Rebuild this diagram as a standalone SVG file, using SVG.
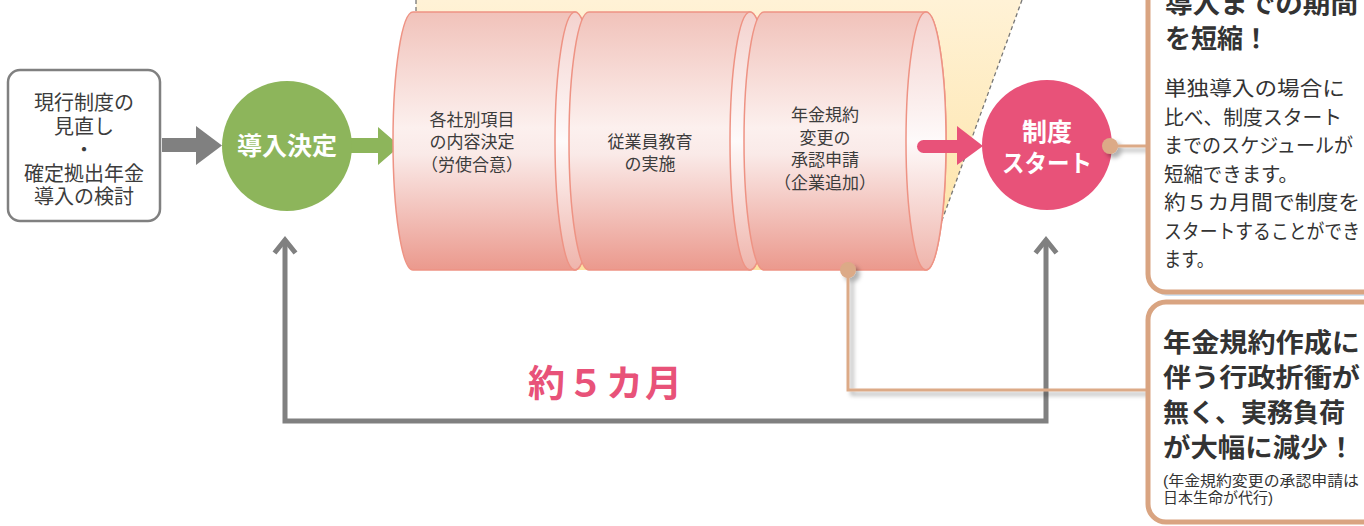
<svg xmlns="http://www.w3.org/2000/svg" width="1364" height="526" viewBox="0 0 1364 526">
<defs>
<linearGradient id="trap" x1="0" y1="0" x2="0" y2="1">
<stop offset="0" stop-color="#fff2d6"/><stop offset="1" stop-color="#fde2a2"/>
</linearGradient>
<linearGradient id="cylBody" x1="0" y1="0" x2="0" y2="1">
<stop offset="0" stop-color="#f1c2ba"/><stop offset="0.45" stop-color="#fcf0ee"/><stop offset="0.55" stop-color="#faeae8"/><stop offset="1" stop-color="#eb998d"/>
</linearGradient>
<linearGradient id="cylEnd" x1="0" y1="0" x2="0" y2="1">
<stop offset="0" stop-color="#f4d2ce"/><stop offset="0.5" stop-color="#fefafa"/><stop offset="1" stop-color="#efb4ab"/>
</linearGradient>
<filter id="shadow" x="-50%" y="-50%" width="200%" height="200%">
<feDropShadow dx="4" dy="4" stdDeviation="2" flood-color="#000" flood-opacity="0.3"/>
</filter>
<style>
.jp{font-family:"Liberation Sans","Noto Sans CJK JP",sans-serif;}
.cyl{fill:url(#cylBody);stroke:#ee9384;stroke-width:1.5;}
.cend{fill:url(#cylEnd);stroke:#ee9384;stroke-width:1.5;}
.ctext{font-size:17px;fill:#3c3c3c;text-anchor:middle;}
.box{fill:#fff;stroke:#d9a481;stroke-width:5;}
.title{font-size:26px;font-weight:bold;fill:#333;}
.body{font-size:20px;fill:#333;}
.tan{fill:none;stroke:#dcaa87;stroke-width:3;}
.dot{fill:#dcaa87;}
.gray{fill:#808080;}
</style>
</defs>

<g id="background-zoom">
<polygon points="416,0 1022,0 924,270 416,270" fill="url(#trap)"/>
<line x1="416" y1="0" x2="416" y2="14" stroke="#777" stroke-width="1.3" stroke-dasharray="4,3"/>
<line x1="1022" y1="0" x2="924" y2="270" stroke="#777" stroke-width="1.3" stroke-dasharray="4,3"/>
</g>

<g id="connectors">
<path d="M285,241 V421 H1046 V241" fill="none" stroke="#808080" stroke-width="5"/>
<polyline points="274.5,253 285,240 295.5,253" fill="none" stroke="#808080" stroke-width="5"/>
<polyline points="1035.5,253 1046,240 1056.5,253" fill="none" stroke="#808080" stroke-width="5"/>
<polygon class="gray" points="162,138 196,138 196,126 222,145.5 196,165 196,152 162,152"/>
<polygon fill="#8db55b" points="350,138 378,138 378,127 400,146 378,165 378,153 350,153"/>
</g>

<g id="node-review">
<rect x="8" y="70" width="152" height="151" rx="12" fill="#fff" stroke="#808080" stroke-width="2.5"/>
<g class="jp" font-size="20" fill="#3c3c3c" text-anchor="middle">
<text x="84" y="110">現行制度の</text>
<text x="84" y="133.5">見直し</text>
<text x="84" y="157">・</text>
<text x="84" y="180.5">確定拠出年金</text>
<text x="84" y="204">導入の検討</text>
</g>
</g>

<g id="node-decision">
<circle cx="287" cy="146" r="65" fill="#8db55b"/>
<text class="jp" x="287" y="155" font-size="25" font-weight="bold" fill="#fff" text-anchor="middle">導入決定</text>
</g>

<g id="node-step1">
<path class="cyl" d="M413,12 H575 A20,129 0 0 1 575,270 H413 A20,129 0 0 1 413,12 Z"/>
<ellipse class="cend" cx="575" cy="141" rx="20" ry="129"/>
</g>
<g id="node-step2">
<path class="cyl" d="M589,12 H750 A20,129 0 0 1 750,270 H589 A20,129 0 0 1 589,12 Z"/>
<ellipse class="cend" cx="750" cy="141" rx="20" ry="129"/>
</g>
<g id="node-step3">
<path class="cyl" d="M764,12 H926 A20,129 0 0 1 926,270 H764 A20,129 0 0 1 764,12 Z"/>
<ellipse class="cend" cx="926" cy="141" rx="20" ry="129"/>
</g>
<g class="jp ctext">
<text x="472" y="126">各社別項目</text>
<text x="472" y="148">の内容決定</text>
<text x="472" y="171">（労使合意）</text>
<text x="650" y="148">従業員教育</text>
<text x="650" y="170">の実施</text>
<text x="825" y="121">年金規約</text>
<text x="825" y="144">変更の</text>
<text x="825" y="166">承認申請</text>
<text x="825" y="189">（企業追加）</text>
</g>

<g id="arrow-pink">
<line x1="923.5" y1="146.5" x2="960" y2="146.5" stroke="#e85279" stroke-width="13" stroke-linecap="round"/>
<polygon fill="#e85279" points="957,126 983,146 957,165"/>
</g>

<g id="node-start">
<circle cx="1047" cy="145" r="65" fill="#e85279"/>
<text class="jp" x="1047" y="141" font-size="25" font-weight="bold" fill="#fff" text-anchor="middle">制度</text>
<text class="jp" x="1047" y="172" font-size="24" font-weight="bold" fill="#fff" text-anchor="middle" textLength="90" lengthAdjust="spacingAndGlyphs">スタート</text>
</g>

<g id="label-period">
<text class="jp" x="606" y="397" font-size="37" font-weight="bold" fill="#e85279" text-anchor="middle" letter-spacing="2">約５カ月</text>
</g>

<g id="callout-connectors" filter="url(#shadow)">
<path class="tan" d="M1110,146 H1148"/>
<circle class="dot" cx="1110" cy="146" r="8"/>
<path class="tan" d="M848,270 V390 H1148"/>
<circle class="dot" cx="848" cy="270" r="8"/>
</g>

<g id="node-note-top">
<rect x="1151" y="-36" width="240" height="332" rx="18" fill="#cfe2f3"/>
<rect class="box" x="1148" y="-40" width="240" height="332" rx="18"/>
<g class="jp">
<text class="title" x="1165" y="13" textLength="193" lengthAdjust="spacingAndGlyphs">導入までの期間</text>
<text class="title" x="1165" y="48">を短縮！</text>
<text class="body" x="1164" y="96" textLength="181" lengthAdjust="spacingAndGlyphs">単独導入の場合に</text>
<text class="body" x="1164" y="124.5" textLength="178" lengthAdjust="spacingAndGlyphs">比べ、制度スタート</text>
<text class="body" x="1164" y="153" textLength="189" lengthAdjust="spacingAndGlyphs">までのスケジュールが</text>
<text class="body" x="1164" y="181.5" textLength="134" lengthAdjust="spacingAndGlyphs">短縮できます。</text>
<text class="body" x="1164" y="210" textLength="196" lengthAdjust="spacingAndGlyphs">約５カ月間で制度を</text>
<text class="body" x="1164" y="238.5" textLength="196" lengthAdjust="spacingAndGlyphs">スタートすることができ</text>
<text class="body" x="1164" y="267" textLength="50" lengthAdjust="spacingAndGlyphs">ます。</text>
</g>
</g>

<g id="node-note-bottom">
<rect class="box" x="1148" y="302" width="240" height="220" rx="18"/>
<g class="jp">
<text class="title" x="1163" y="352" font-size="28" textLength="197" lengthAdjust="spacingAndGlyphs">年金規約作成に</text>
<text class="title" x="1163" y="387" font-size="28" textLength="197" lengthAdjust="spacingAndGlyphs">伴う行政折衝が</text>
<text class="title" x="1163" y="422" font-size="28" textLength="182" lengthAdjust="spacingAndGlyphs">無く、実務負荷</text>
<text class="title" x="1163" y="457" font-size="28" textLength="192" lengthAdjust="spacingAndGlyphs">が大幅に減少！</text>
<text x="1163" y="486" font-size="14.5" fill="#333" textLength="196" lengthAdjust="spacingAndGlyphs">(年金規約変更の承認申請は</text>
<text x="1163" y="503" font-size="14.5" fill="#333" textLength="110" lengthAdjust="spacingAndGlyphs">日本生命が代行)</text>
</g>
</g>
</svg>
